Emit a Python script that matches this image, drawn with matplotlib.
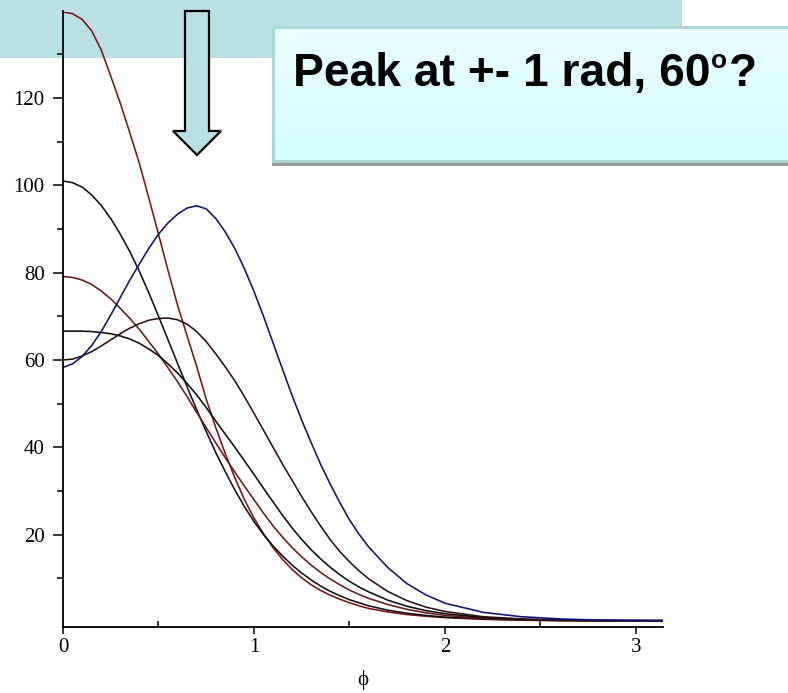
import numpy as np
import matplotlib
matplotlib.use("Agg")
import matplotlib.pyplot as plt
from matplotlib.patches import Rectangle, Polygon
import matplotlib.colors as mcolors

# ---- data ----
phi = [0.0, 0.05, 0.1, 0.15, 0.2, 0.25, 0.3, 0.35, 0.4, 0.45, 0.5, 0.55, 0.6, 0.65,
       0.7, 0.75, 0.8, 0.85, 0.9, 0.95, 1.0, 1.05, 1.1, 1.15, 1.2, 1.25, 1.3, 1.35,
       1.4, 1.45, 1.5, 1.55, 1.6, 1.7, 1.8, 1.9, 2.0, 2.2, 2.4, 2.6, 2.8, 3.0, 3.14]

red_top = [139.7, 139.3, 138.0, 135.4, 131.0, 125.0, 118.8, 112.0, 105.0, 97.0, 88.8, 80.5, 72.5, 65.5,
           58.5, 51.0, 44.5, 38.5, 33.0, 28.0, 23.8, 20.2, 17.0, 14.3, 12.0, 10.1, 8.5, 7.2,
           6.1, 5.2, 4.4, 3.7, 3.1, 2.3, 1.7, 1.3, 1.0, 0.6, 0.4, 0.3, 0.3, 0.3, 0.3]
black_101 = [101.0, 100.6, 99.6, 97.8, 95.4, 92.4, 88.8, 84.8, 80.3, 75.3, 70.0, 64.6, 59.2, 53.8,
             48.6, 43.6, 38.8, 34.4, 30.2, 26.4, 23.0, 20.0, 17.4, 15.1, 13.0, 11.2, 9.6, 8.2,
             7.0, 6.0, 5.1, 4.4, 3.7, 2.7, 2.0, 1.5, 1.1, 0.7, 0.45, 0.35, 0.3, 0.3, 0.3]
maroon_79 = [79.1, 78.9, 78.3, 77.3, 75.8, 74.0, 71.8, 69.5, 67.0, 64.2, 61.3, 58.2, 55.0, 51.6,
             48.0, 44.5, 41.0, 37.6, 34.3, 31.1, 28.0, 24.9, 22.0, 19.4, 17.0, 14.9, 13.0, 11.3,
             9.8, 8.5, 7.3, 6.3, 5.4, 4.0, 2.9, 2.1, 1.5, 0.8, 0.5, 0.35, 0.3, 0.3, 0.3]
black_67 = [66.6, 66.6, 66.6, 66.5, 66.3, 66.0, 65.5, 64.8, 63.8, 62.5, 61.0, 59.1, 57.0, 54.6,
            52.0, 49.1, 46.0, 43.0, 40.0, 36.9, 33.8, 30.6, 27.5, 24.4, 21.5, 18.9, 16.5, 14.4,
            12.5, 10.8, 9.3, 8.0, 6.9, 5.0, 3.6, 2.6, 1.9, 1.0, 0.6, 0.4, 0.3, 0.3, 0.3]
black_60 = [60.0, 60.2, 60.9, 61.9, 63.2, 64.6, 66.0, 67.3, 68.3, 69.1, 69.5, 69.6, 69.2, 68.2,
            66.5, 64.2, 61.4, 58.4, 55.2, 51.6, 47.8, 43.9, 40.0, 36.1, 32.4, 28.7, 25.2, 21.9,
            18.8, 16.1, 13.8, 11.7, 9.9, 7.0, 4.9, 3.4, 2.4, 1.2, 0.7, 0.45, 0.35, 0.3, 0.3]
blue_58 = [58.3, 59.1, 60.8, 63.3, 66.5, 70.3, 74.3, 78.3, 82.0, 85.6, 88.8, 91.4, 93.4, 94.8,
           95.3, 94.6, 92.4, 89.3, 85.5, 80.9, 75.7, 70.0, 63.9, 57.8, 51.8, 46.2, 41.0, 36.0,
           31.5, 27.3, 23.4, 20.1, 17.2, 12.5, 8.8, 6.2, 4.3, 2.2, 1.2, 0.7, 0.45, 0.35, 0.3]

series = [red_top, black_101, maroon_79, black_67, black_60, blue_58]
colors = ["#7a1414", "#101010", "#6a1818", "#0c0c0c", "#2a1010", "#10107a"]

y_major = [20, 40, 60, 80, 100, 120]
y_minor = [10, 30, 50, 70, 90, 110, 130]
x_major = [0, 1, 2, 3]
x_minor = [0.5, 1.5, 2.5]

title_main = "Peak at +- 1 rad, 60"
title_sup = "o"
title_end = "?"

W, H = 788, 693
fig = plt.figure(figsize=(W / 100, H / 100), dpi=100)
fig.patch.set_facecolor("white")

# background overlay (banner) in pixel coordinates
bg = fig.add_axes([0, 0, 1, 1], zorder=0)
bg.set_xlim(0, W)
bg.set_ylim(H, 0)
bg.axis("off")
bg.add_patch(Rectangle((0, 0), 682, 58, facecolor="#b9e0e3", edgecolor="none"))

# main axes
x0p, x1p = 63, 663
ytop_p, ybot_p = 11.5, 627.2
ax = fig.add_axes([x0p / W, 1 - ybot_p / H, (x1p - x0p) / W, (ybot_p - ytop_p) / H], zorder=1)
ax.patch.set_alpha(0)
for yv, c in zip(series, colors):
    ax.plot(phi, yv, color=c, lw=1.15, solid_joinstyle="round")
ax.set_xlim(0, np.pi)
ax.set_ylim(-1.2, 139.8)
for s in ["top", "right"]:
    ax.spines[s].set_visible(False)
for s in ["left", "bottom"]:
    ax.spines[s].set_linewidth(1.3)
ax.set_yticks(y_major)
ax.set_yticks(y_minor, minor=True)
ax.set_xticks(x_major)
ax.set_xticks(x_minor, minor=True)
ax.set_xticklabels([str(v) for v in x_major])
ax.set_yticklabels([str(v) for v in y_major])
ax.tick_params(axis="y", which="major", length=7.2, width=1.1, pad=6, direction="out")
ax.tick_params(axis="y", which="minor", length=4.3, width=1.1, direction="out")
ax.tick_params(axis="x", which="major", length=5, width=1.1, pad=3, direction="out")
ax.tick_params(axis="x", which="minor", length=4, width=1.1, direction="in")
for lab in ax.get_xticklabels() + ax.get_yticklabels():
    lab.set_fontfamily(["Liberation Serif", "DejaVu Serif"])
    lab.set_fontsize(15)
ax.set_xlabel("ϕ", fontsize=15, family=["Liberation Serif", "DejaVu Serif"], labelpad=9)

# foreground overlay: arrow, text box
fg = fig.add_axes([0, 0, 1, 1], zorder=2)
fg.set_xlim(0, W)
fg.set_ylim(H, 0)
fg.axis("off")
fg.patch.set_alpha(0)

arrow = Polygon([(185, 11), (209, 11), (209, 131), (221, 131), (197, 155),
                 (173, 131), (185, 131)], closed=True,
                facecolor="#b9e0e3", edgecolor="black", lw=1.6, joinstyle="miter")
fg.add_patch(arrow)

# box shadow
fg.add_patch(Rectangle((272, 157), W - 272 + 5, 9, facecolor="#9c9c9c", edgecolor="none"))
# gradient box
grad = np.linspace(0, 1, 100).reshape(-1, 1)
cmap = mcolors.LinearSegmentedColormap.from_list("g", ["#ebffff", "#d3fbfd"])
fg.imshow(grad, extent=(273, W + 5, 161, 27), cmap=cmap, aspect="auto", zorder=3)
fg.add_patch(Rectangle((273, 27), W - 273 + 5, 134, facecolor="none",
                       edgecolor="#a6d6d9", lw=2.0, zorder=4))
fg.set_xlim(0, W)
fg.set_ylim(H, 0)

tfont = dict(fontweight="bold", family=["Liberation Sans", "DejaVu Sans"], color="black",
             va="baseline", ha="left", zorder=5)
t1 = fg.text(293, 86, title_main, fontsize=33.2, **tfont)
fig.canvas.draw()
r = fig.canvas.get_renderer()
inv = fg.transData.inverted()
xe = inv.transform((t1.get_window_extent(r).x1, 0))[0]
t2 = fg.text(xe + 1, 68, title_sup, fontsize=19, **tfont)
fig.canvas.draw()
xe2 = inv.transform((t2.get_window_extent(r).x1, 0))[0]
fg.text(xe2 + 1, 86, title_end, fontsize=33.2, **tfont)

fig.savefig("out.png", dpi=100)
